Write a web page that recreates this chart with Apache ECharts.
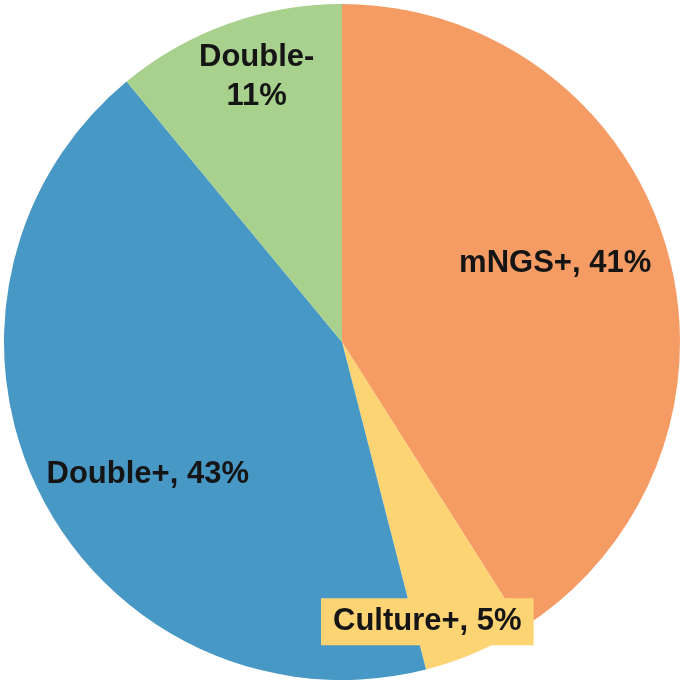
<!DOCTYPE html>
<html>
<head>
<meta charset="utf-8">
<script src="https://cdn.jsdelivr.net/npm/echarts@6/dist/echarts.min.js"></script>
<style>
  html, body { margin: 0; padding: 0; background: #fff; }
  #main { width: 685px; height: 683px; }
</style>
</head>
<body>
<div id="main"></div>
<script>
// 数据
const categories = ["mNGS+", "Culture+", "Double+", "Double-"];
const percents = [41, 5, 43, 11];

const colors = ["#F59C65", "#FDD474", "#4898C5", "#A8D18D"];
// label nudges from the default inside spot
const offsets = [[48, -31], [17, 122], [-41, 54], [-27, -103]];

const pieData = categories.map((name, i) => {
  const item = {
    name: name,
    value: percents[i],
    itemStyle: { color: colors[i] },
    label: { offset: offsets[i] },
  };
  if (name === "Culture+") {
    item.label.backgroundColor = "#FDD474";
    item.label.padding = [8, 12, 8, 12];
  }
  if (name === "Double-") {
    item.label.formatter = "{b}\n{c}%";
    item.label.lineHeight = 39;
  }
  return item;
});

const myChart = echarts.init(document.getElementById("main"));
myChart.setOption({
  animation: false,
  series: [
    {
      type: "pie",
      center: [342, 342],
      radius: [0, 338],
      startAngle: 90,
      clockwise: true,
      avoidLabelOverlap: false,
      label: {
        show: true,
        position: "inside",
        formatter: "{b}, {c}%",
        color: "#151515",
        fontFamily: "'Liberation Sans', Arial, sans-serif",
        fontWeight: "bold",
        fontSize: 31,
      },
      labelLine: { show: false },
      emphasis: { disabled: true },
      data: pieData,
    },
  ],
});
</script>
</body>
</html>
